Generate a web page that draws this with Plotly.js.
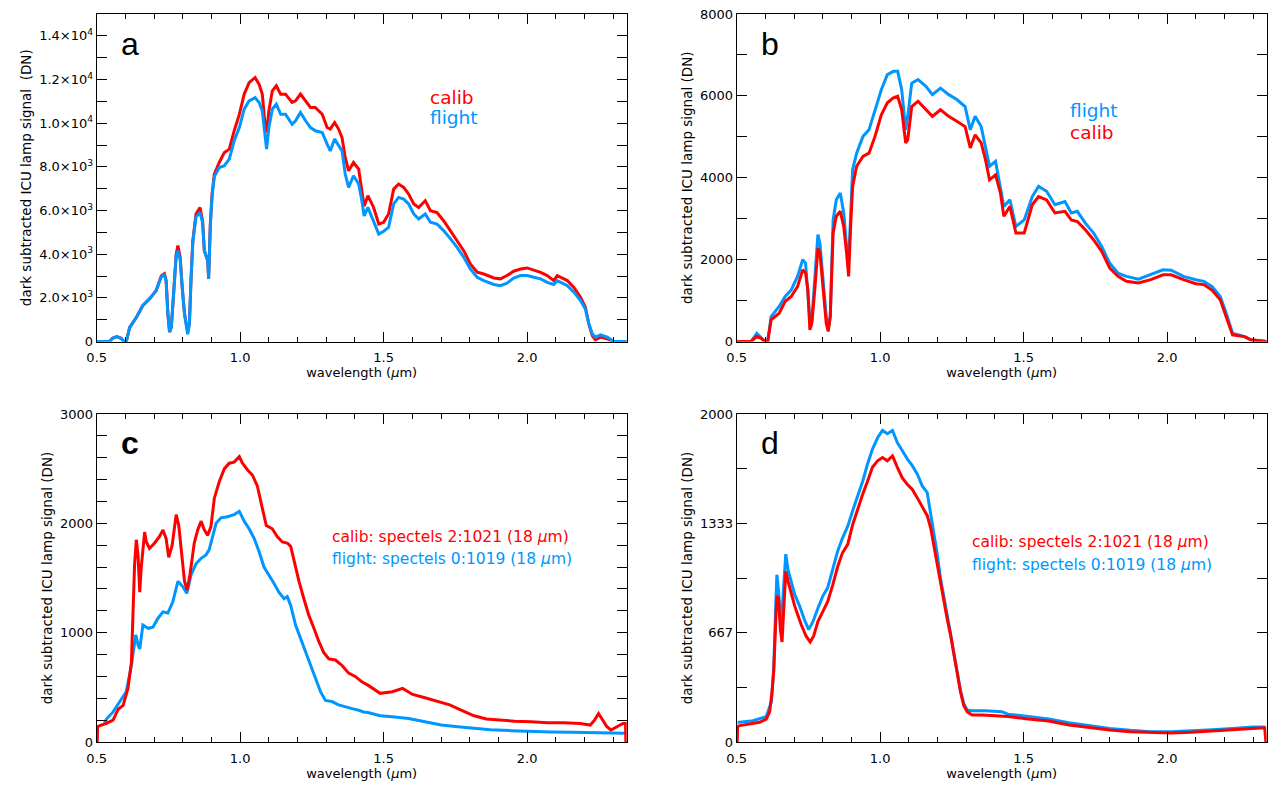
<!DOCTYPE html>
<html>
<head>
<meta charset="utf-8">
<script src="https://cdn.plot.ly/plotly-3.0.1.min.js"></script>
<style>html,body{margin:0;padding:0;background:#fff;}#chart{width:1281px;height:793px;}</style>
</head>
<body>
<div id="chart"></div>
<script>
// ---------- Panel a ----------
const aCalibWl = [0.5,0.545,0.555,0.57,0.585,0.595,0.603,0.615,0.638,0.661,0.684,0.707,0.725,0.736,0.742,0.748,0.754,0.76,0.768,0.777,0.783,0.791,0.798,0.806,0.817,0.823,0.829,0.835,0.846,0.86,0.869,0.875,0.887,0.89,0.896,0.902,0.91,0.927,0.945,0.962,0.979,0.997,1.014,1.031,1.052,1.066,1.077,1.087,1.092,1.1,1.112,1.126,1.141,1.158,1.181,1.193,1.21,1.228,1.245,1.262,1.286,1.303,1.314,1.329,1.343,1.355,1.366,1.378,1.395,1.413,1.424,1.432,1.445,1.465,1.483,1.5,1.517,1.535,1.552,1.57,1.587,1.605,1.622,1.645,1.663,1.686,1.709,1.733,1.756,1.779,1.802,1.826,1.849,1.884,1.907,1.93,1.953,1.977,2.0,2.023,2.047,2.07,2.093,2.105,2.116,2.14,2.163,2.186,2.203,2.215,2.227,2.238,2.256,2.279,2.302,2.347];
const aCalib = [0,0,150,220,150,0,0,650,1100,1650,1950,2330,3000,3100,2800,1270,430,650,2180,4000,4400,3850,2480,1270,430,800,2940,4620,5840,6140,5530,4160,3700,2870,5380,6750,7670,8200,8660,8810,9650,10400,11330,11860,12090,11780,11330,9880,9570,10560,11480,11710,11330,11330,10950,11020,11330,11020,10720,10720,10410,9800,9730,10030,9730,9340,8430,7820,8200,7900,6900,6200,6680,6140,5380,5460,5840,6980,7210,7060,6750,6300,6140,6450,5990,5910,5530,5080,4620,4160,3550,3170,3090,2910,2870,3020,3220,3320,3370,3280,3170,3020,2790,3020,2940,2790,2480,2030,1570,810,270,80,200,120,0,0];
const aFlightWl = aCalibWl.slice();
const aFlight = [0,0,150,220,150,0,0,650,1100,1650,1950,2330,2950,3050,2750,1270,430,650,2180,3950,4160,3750,2480,1270,330,800,2940,4550,5700,5910,5450,4160,3700,2870,5300,6650,7550,7970,8050,8350,9190,9800,10640,11020,11170,10950,10560,9340,8810,9800,10640,10870,10410,10410,9950,10110,10490,10110,9800,9650,9570,9040,8730,9270,8960,8730,7670,7060,7590,7210,6450,5750,6140,5530,4920,5050,5230,6300,6600,6520,6300,5840,5610,5840,5460,5380,5080,4700,4310,3860,3320,2940,2790,2610,2560,2670,2910,3020,3020,2940,2870,2710,2610,2790,2710,2560,2260,1880,1490,810,350,200,300,200,0,0];

// ---------- Panel b ----------
const bWl = [0.5,0.55,0.57,0.585,0.598,0.608,0.62,0.648,0.669,0.69,0.712,0.73,0.74,0.748,0.755,0.762,0.773,0.783,0.79,0.802,0.812,0.819,0.826,0.836,0.847,0.861,0.873,0.883,0.89,0.897,0.904,0.918,0.94,0.961,0.982,1.004,1.025,1.046,1.061,1.075,1.089,1.096,1.11,1.132,1.16,1.182,1.21,1.239,1.267,1.296,1.314,1.331,1.352,1.367,1.381,1.402,1.419,1.431,1.452,1.473,1.502,1.53,1.552,1.58,1.609,1.644,1.666,1.687,1.715,1.744,1.772,1.8,1.829,1.858,1.9,1.943,1.986,2.014,2.057,2.1,2.128,2.157,2.185,2.206,2.228,2.249,2.27,2.292,2.347];
const bFlight = [0,0,200,100,0,0,610,855,1100,1260,1590,2000,1910,1180,530,530,1510,2610,2400,1510,610,285,610,2970,3460,3630,3140,2320,1910,3060,4200,4600,5010,5170,5660,6150,6520,6600,6600,6150,5170,5500,6310,6400,6230,6030,6190,6030,5910,5740,5170,5500,5250,4770,4280,4400,3790,3300,3460,2810,2970,3540,3790,3670,3340,3420,3140,3180,2890,2650,2320,1910,1670,1590,1520,1630,1750,1740,1590,1510,1470,1340,1100,690,200,160,120,40,0];
const bCalib = [0,0,120,80,0,0,530,690,980,1100,1340,1750,1670,1260,285,450,1340,2280,2160,1260,450,245,610,2650,3060,3180,2810,2160,1590,2810,3790,4280,4520,4600,5010,5540,5830,5950,5990,5660,4850,4930,5740,5870,5660,5500,5660,5500,5380,5250,4730,5050,4850,4440,3950,4070,3630,3060,3300,2650,2650,3340,3540,3460,3140,3180,2970,2930,2730,2480,2200,1790,1590,1470,1430,1510,1630,1630,1510,1410,1390,1250,1020,610,160,140,120,40,0];

// ---------- Panel c ----------
const cCalibWl = [0.502,0.503,0.511,0.534,0.557,0.575,0.592,0.609,0.621,0.627,0.632,0.638,0.644,0.65,0.655,0.667,0.673,0.684,0.702,0.719,0.731,0.742,0.751,0.763,0.777,0.786,0.798,0.806,0.815,0.825,0.84,0.852,0.864,0.875,0.887,0.898,0.91,0.927,0.945,0.962,0.979,0.997,1.008,1.025,1.043,1.06,1.077,1.091,1.112,1.129,1.147,1.164,1.176,1.188,1.205,1.222,1.239,1.257,1.274,1.291,1.309,1.332,1.355,1.378,1.401,1.424,1.445,1.488,1.53,1.566,1.601,1.644,1.687,1.73,1.772,1.815,1.858,1.9,1.957,2.014,2.071,2.128,2.185,2.22,2.235,2.249,2.264,2.278,2.292,2.313,2.334,2.343,2.344];
const cCalib = [0,140,150,170,200,300,335,490,730,1220,1620,1850,1710,1370,1590,1920,1830,1770,1820,1880,1940,1860,1690,1800,2080,1980,1650,1470,1390,1530,1820,1940,2020,1940,1890,1970,2230,2380,2500,2550,2560,2610,2550,2490,2440,2340,2140,1980,1950,1880,1830,1820,1790,1650,1470,1310,1160,1040,920,820,760,750,700,630,600,550,520,445,460,490,435,405,375,340,290,240,210,200,190,185,175,175,170,155,200,260,200,140,110,140,170,170,0];
const cFlightWl = [0.527,0.534,0.557,0.58,0.603,0.621,0.629,0.636,0.644,0.65,0.661,0.679,0.696,0.713,0.731,0.748,0.765,0.783,0.8,0.814,0.829,0.846,0.864,0.881,0.892,0.902,0.916,0.933,0.956,0.979,0.997,1.014,1.031,1.049,1.066,1.083,1.1,1.118,1.135,1.153,1.164,1.176,1.193,1.21,1.228,1.245,1.262,1.28,1.297,1.32,1.343,1.367,1.39,1.413,1.43,1.445,1.488,1.53,1.587,1.644,1.701,1.758,1.815,1.872,1.943,2.014,2.085,2.157,2.228,2.299,2.341];
const cFlight = [170,210,275,370,460,700,850,980,890,850,1070,1040,1050,1130,1190,1180,1280,1470,1420,1360,1530,1630,1680,1710,1760,1850,2000,2050,2060,2080,2110,2020,1950,1860,1740,1600,1530,1450,1370,1310,1330,1250,1070,950,820,700,580,460,380,370,340,320,305,290,275,270,240,230,215,185,155,140,125,113,104,95,92,90,85,80,80];

// ---------- Panel d ----------
const dCalibWl = [0.502,0.503,0.511,0.546,0.58,0.603,0.615,0.623,0.629,0.635,0.64,0.646,0.652,0.658,0.664,0.671,0.679,0.69,0.702,0.713,0.725,0.742,0.756,0.768,0.783,0.8,0.817,0.835,0.852,0.869,0.887,0.904,0.921,0.939,0.956,0.973,0.991,1.008,1.025,1.043,1.06,1.077,1.095,1.112,1.129,1.147,1.164,1.176,1.188,1.199,1.21,1.222,1.233,1.245,1.257,1.268,1.28,1.291,1.303,1.32,1.355,1.401,1.445,1.516,1.587,1.658,1.73,1.8,1.872,1.943,2.014,2.085,2.157,2.228,2.299,2.34,2.344];
const dCalib = [0,95,100,110,120,140,185,305,430,690,890,880,690,610,840,1040,980,900,830,775,715,645,610,645,735,795,855,960,1070,1155,1205,1325,1420,1510,1590,1675,1715,1735,1715,1745,1675,1610,1570,1540,1490,1430,1380,1305,1185,1080,960,855,755,655,530,410,305,225,185,165,165,160,155,140,128,104,87,73,63,57,55,59,67,77,83,87,0];
const dFlightWl = [0.503,0.511,0.557,0.603,0.621,0.629,0.635,0.64,0.646,0.652,0.658,0.664,0.671,0.679,0.69,0.702,0.719,0.736,0.751,0.766,0.783,0.8,0.817,0.835,0.852,0.869,0.887,0.904,0.921,0.939,0.956,0.973,0.991,1.008,1.025,1.043,1.06,1.077,1.095,1.112,1.129,1.147,1.164,1.176,1.188,1.199,1.21,1.222,1.233,1.245,1.257,1.268,1.28,1.291,1.303,1.32,1.367,1.424,1.445,1.516,1.587,1.658,1.73,1.8,1.872,1.943,2.014,2.085,2.157,2.228,2.299,2.341];
const dFlight = [120,120,130,155,245,450,775,1020,920,735,795,980,1145,1050,980,900,830,745,685,735,815,890,940,1060,1165,1245,1315,1410,1500,1590,1695,1785,1855,1900,1880,1900,1825,1775,1725,1685,1635,1560,1520,1390,1265,1145,1000,890,775,665,540,420,315,235,195,190,190,185,170,155,140,118,100,83,71,63,63,67,75,83,91,91];

// ---------- Tick labels ----------
const xTickVals = [0.5, 1.0, 1.5, 2.0];
const xTickText = ['0.5', '1.0', '1.5', '2.0'];
const aTickVals = [0, 2000, 4000, 6000, 8000, 10000, 12000, 14000];
const aTickText = ['0', '2.0×10<sup>3</sup>', '4.0×10<sup>3</sup>', '6.0×10<sup>3</sup>', '8.0×10<sup>3</sup>', '1.0×10<sup>4</sup>', '1.2×10<sup>4</sup>', '1.4×10<sup>4</sup>'];
const bTickVals = [0, 2000, 4000, 6000, 8000];
const bTickText = ['0', '2000', '4000', '6000', '8000'];
const cTickVals = [0, 1000, 2000, 3000];
const cTickText = ['0', '1000', '2000', '3000'];
const dTickVals = [0, 2000/3, 4000/3, 2000];
const dTickText = ['0', '667', '1333', '2000'];

const RED = '#ff0000';
const BLUE = '#0096ff';
const FONT = 'DejaVu Sans, sans-serif';

function line(x, y, color, xa, ya) {
  return {x: x, y: y, type: 'scatter', mode: 'lines', xaxis: xa, yaxis: ya,
          line: {color: color, width: 3}, hoverinfo: 'skip'};
}

const data = [
  line(aCalibWl, aCalib, RED, 'x', 'y'),
  line(aFlightWl, aFlight, BLUE, 'x', 'y'),
  line(bWl, bFlight, BLUE, 'x2', 'y2'),
  line(bWl, bCalib, RED, 'x2', 'y2'),
  line(cFlightWl, cFlight, BLUE, 'x3', 'y3'),
  line(cCalibWl, cCalib, RED, 'x3', 'y3'),
  line(dFlightWl, dFlight, BLUE, 'x4', 'y4'),
  line(dCalibWl, dCalib, RED, 'x4', 'y4')
];

const W = 1281, H = 793;
const leftDom = [96.7 / W, 626.7 / W];
const rightDom = [736.7 / W, 1266.7 / W];
const topDom = [1 - 341.5 / H, 1 - 14 / H];
const botDom = [1 - 742 / H, 1 - 414 / H];

function xAxis(domain, anchor) {
  return {
    domain: domain, anchor: anchor, range: [0.5, 2.347],
    showline: true, linecolor: 'black', linewidth: 1, mirror: 'ticks',
    ticks: 'inside', ticklen: 10, tickcolor: 'black', tickwidth: 1,
    tickvals: xTickVals, ticktext: xTickText, ticklabelstandoff: 4,
    minor: {ticks: 'inside', ticklen: 5, tick0: 0.5, dtick: 0.1, tickcolor: 'black', tickwidth: 1},
    showgrid: false, zeroline: false,
    tickfont: {family: FONT, size: 13, color: 'black'},
    title: {text: 'wavelength (<i>μ</i>m)', font: {family: FONT, size: 13, color: 'black'}, standoff: 2}
  };
}
function yAxis(domain, anchor, range, vals, text, minorDtick, titleText) {
  return {
    domain: domain, anchor: anchor, range: range,
    showline: true, linecolor: 'black', linewidth: 1, mirror: 'ticks',
    ticks: 'inside', ticklen: 10, tickcolor: 'black', tickwidth: 1,
    tickvals: vals, ticktext: text,
    minor: {ticks: 'inside', ticklen: 10, tick0: 0, dtick: minorDtick, tickcolor: 'black', tickwidth: 1},
    showgrid: false, zeroline: false,
    tickfont: {family: FONT, size: 13, color: 'black'},
    title: {text: titleText, font: {family: FONT, size: 13.5, color: 'black'}, standoff: 4}
  };
}

function txt(px, py, text, color, size, extra) {
  return Object.assign({xref: 'paper', yref: 'paper', x: px / W, y: 1 - py / H,
    xanchor: 'left', yanchor: 'middle', text: text, showarrow: false,
    font: {family: FONT, size: size, color: color}}, extra || {});
}
function panelLabel(px, py, text) {
  return {xref: 'paper', yref: 'paper', x: px / W, y: 1 - py / H, xanchor: 'center', yanchor: 'middle',
    text: text, showarrow: false, font: {family: 'Liberation Sans, Arial, sans-serif', size: 32, color: 'black'}};
}

const layout = {
  width: W, height: H,
  margin: {l: 0, r: 0, t: 0, b: 0},
  paper_bgcolor: 'white', plot_bgcolor: 'white',
  showlegend: false,
  xaxis: xAxis(leftDom, 'y'),
  yaxis: yAxis(topDom, 'x', [0, 15000], aTickVals, aTickText, 1000, 'dark subtracted ICU lamp signal  (DN)'),
  xaxis2: xAxis(rightDom, 'y2'),
  yaxis2: yAxis(topDom, 'x2', [0, 8000], bTickVals, bTickText, 1000, 'dark subtracted ICU lamp signal (DN)'),
  xaxis3: xAxis(leftDom, 'y3'),
  yaxis3: yAxis(botDom, 'x3', [0, 3000], cTickVals, cTickText, 200, 'dark subtracted ICU lamp signal (DN)'),
  xaxis4: xAxis(rightDom, 'y4'),
  yaxis4: yAxis(botDom, 'x4', [0, 2000], dTickVals, dTickText, 2000/6, 'dark subtracted ICU lamp signal (DN)'),
  annotations: [
    panelLabel(130, 44, 'a'),
    panelLabel(770, 44, 'b'),
    panelLabel(130, 443, '<b>c</b>'),
    panelLabel(770, 443, 'd'),
    txt(428, 97, 'calib', RED, 18.5),
    txt(428, 118, 'flight', BLUE, 18.5),
    txt(1068, 111, 'flight', BLUE, 18.5),
    txt(1068, 132, 'calib', RED, 18.5),
    txt(330, 537, 'calib: spectels 2:1021 (18 <i>μ</i>m)', RED, 15.5),
    txt(330, 559, 'flight: spectels 0:1019 (18 <i>μ</i>m)', BLUE, 15.5),
    txt(970, 542, 'calib: spectels 2:1021 (18 <i>μ</i>m)', RED, 15.5),
    txt(970, 565, 'flight: spectels 0:1019 (18 <i>μ</i>m)', BLUE, 15.5)
  ]
};

Plotly.newPlot('chart', data, layout, {displayModeBar: false, staticPlot: true});
</script>
</body>
</html>
